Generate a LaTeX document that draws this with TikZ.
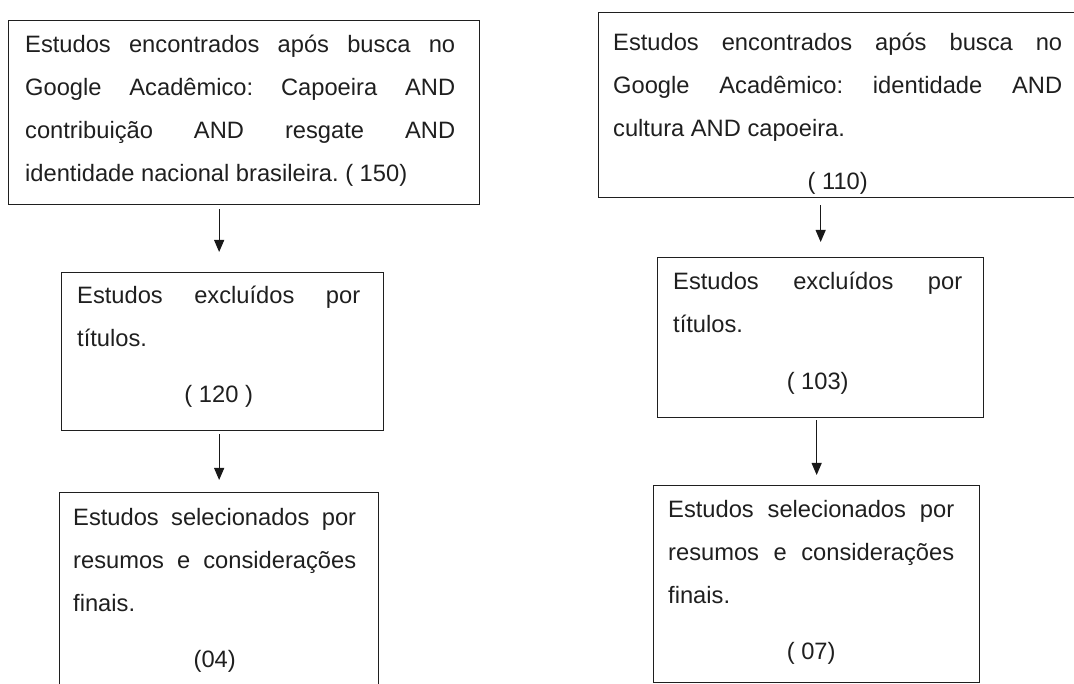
\documentclass[tikz,border=0pt]{standalone}
\usepackage{fontspec}
\setmainfont{Liberation Sans}
\usetikzlibrary{arrows.meta}
\frenchspacing
\newcommand\fl{\rule{0pt}{30pt}}
\newcommand\jline[2]{\makebox[#1][s]{#2}}
\newcommand\lline[2]{\makebox[#1][l]{#2}}
\begin{document}
\begin{tikzpicture}[x=1pt,y=-1pt,
  box/.style={draw=black!88, line width=1.3pt, inner sep=0pt, anchor=north west},
  txt/.style={inner sep=0pt, anchor=north west, align=center,
    font=\fontsize{23.7}{43}\selectfont\frenchspacing, text=black!88},
  arr/.style={draw=black!90, line width=1.1pt, -{Triangle[length=12pt,width=10pt]}}]
\useasboundingbox (0,0) rectangle (1074,684);
\clip (0,0) rectangle (1074,684);
% boxes
\node[box, minimum width=471pt, minimum height=184pt] (b1) at (8,20) {};
\node[box, minimum width=490pt, minimum height=185pt] (b2) at (598,12) {};
\node[box, minimum width=322pt, minimum height=158pt] (b3) at (61,272) {};
\node[box, minimum width=326pt, minimum height=160pt] (b4) at (657,257) {};
\node[box, minimum width=319pt, minimum height=230pt] (b5) at (59,492) {};
\node[box, minimum width=326pt, minimum height=197pt] (b6) at (653,485) {};
% texts
\node[txt] (t1) at (25,22) {%
\jline{430pt}{\fl Estudos encontrados após busca no}\\
\jline{430pt}{Google Acadêmico: Capoeira AND}\\
\jline{430pt}{contribuição AND resgate AND}\\
\lline{430pt}{identidade nacional brasileira. ( 150)}};
\node[txt] (t2) at (613,20) {%
\jline{449pt}{\fl Estudos encontrados após busca no}\\
\jline{449pt}{Google Acadêmico: identidade AND}\\
\lline{449pt}{cultura AND capoeira.}\\[10pt]
( 110)};
\node[txt] (t3) at (77,273) {%
\jline{283pt}{\fl Estudos excluídos por}\\
\lline{283pt}{títulos.}\\[13pt]
( 120 )};
\node[txt] (t4) at (673,259) {%
\jline{289pt}{\fl Estudos excluídos por}\\
\lline{289pt}{títulos.}\\[14pt]
( 103)};
\node[txt] (t5) at (73,495) {%
\jline{283pt}{\fl Estudos selecionados por}\\
\jline{283pt}{resumos e considerações}\\
\lline{283pt}{finais.}\\[13pt]
(04)};
\node[txt] (t6) at (668,487) {%
\jline{286pt}{\fl Estudos selecionados por}\\
\jline{286pt}{resumos e considerações}\\
\lline{286pt}{finais.}\\[13pt]
( 07)};
% arrows
\draw[arr, shorten <=4pt, shorten >=20pt] (b1.south -| b5.north) -- (b3.north -| b5.north);
\draw[arr, shorten <=3pt, shorten >=12pt] (b3.south -| b5.north) -- (b5.north);
\draw[arr, shorten <=7pt, shorten >=15pt] (b2.south -| b4.north) -- (b4.north);
\draw[arr, shorten <=2pt, shorten >=10pt] (b4.south -| b6.north) -- (b6.north);
\end{tikzpicture}
\end{document}
